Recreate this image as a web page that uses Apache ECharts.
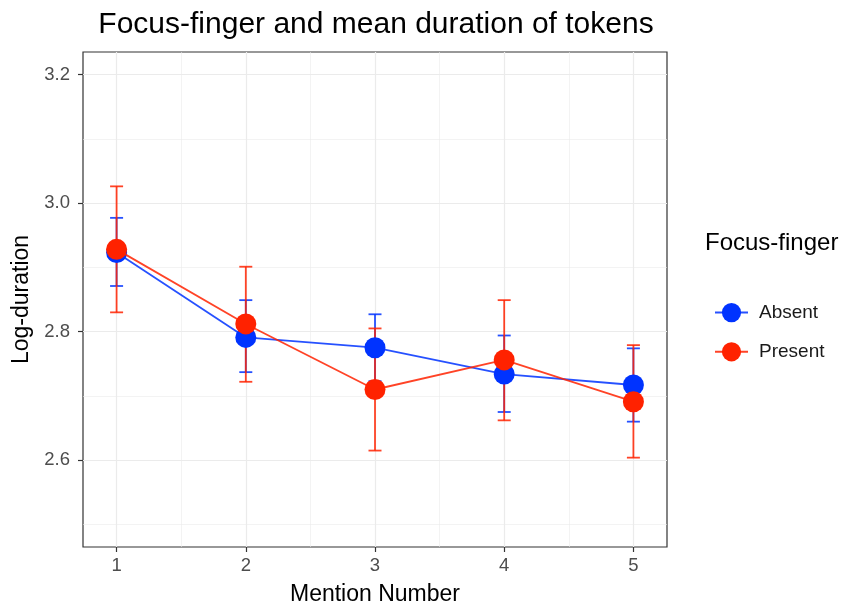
<!DOCTYPE html>
<html>
<head>
<meta charset="utf-8">
<script src="https://cdn.jsdelivr.net/npm/echarts@6/dist/echarts.min.js"></script>
<style>html,body{margin:0;padding:0;background:#fff}#c{width:847px;height:604px}</style>
</head>
<body>
<div id="c"></div>
<script>
// ---- data ----
const mentions = [1, 2, 3, 4, 5];
const absentMean = [2.923, 2.791, 2.775, 2.734, 2.717];
const absentLo   = [2.871, 2.737, 2.723, 2.675, 2.660];
const absentHi   = [2.977, 2.849, 2.827, 2.794, 2.774];
const presentMean = [2.928, 2.812, 2.710, 2.756, 2.691];
const presentLo   = [2.830, 2.722, 2.615, 2.662, 2.604];
const presentHi   = [3.026, 2.901, 2.805, 2.849, 2.779];
const xTicks = [1, 2, 3, 4, 5];
const xMinor = [1.5, 2.5, 3.5, 4.5];
const yTicks = [2.6, 2.8, 3.0, 3.2];
const yMinor = [2.5, 2.7, 2.9, 3.1];
const seriesNames = ['Absent', 'Present'];

const BLUE = '#0033ff', RED = '#ff2200';
const FONT = '"Liberation Sans", Arial, Helvetica, sans-serif';

const chart = echarts.init(document.getElementById('c'), null, {renderer: 'canvas'});

function errSeries(name, lo, hi, color, z) {
  return {
    name: name + ' error', type: 'custom', z: z,
    itemStyle: {color: color},
    data: mentions.map((m, i) => [m, lo[i], hi[i]]),
    renderItem: function (params, api) {
      const x = api.value(0);
      const top = api.coord([x, api.value(2)]);
      const bot = api.coord([x, api.value(1)]);
      const hw = 6.5;
      const st = {stroke: color, lineWidth: 1.8, opacity: 0.85, fill: null};
      return {type: 'group', children: [
        {type: 'line', shape: {x1: top[0], y1: top[1], x2: bot[0], y2: bot[1]}, style: st},
        {type: 'line', shape: {x1: top[0] - hw, y1: top[1], x2: top[0] + hw, y2: top[1]}, style: st},
        {type: 'line', shape: {x1: bot[0] - hw, y1: bot[1], x2: bot[0] + hw, y2: bot[1]}, style: st}
      ]};
    },
    silent: true
  };
}

function lineSeries(name, mean, color, z) {
  return {
    name: name, type: 'line', z: z,
    data: mentions.map((m, i) => [m, mean[i]]),
    symbol: 'circle', symbolSize: 21,
    itemStyle: {color: color},
    lineStyle: {color: color, width: 1.8, opacity: 0.85},
    silent: true
  };
}

const gridLines = []
  .concat(xTicks.map(v => ({xAxis: v, lineStyle: {width: 1.2, color: '#ebebeb'}})))
  .concat(xMinor.map(v => ({xAxis: v, lineStyle: {width: 0.6, color: '#ebebeb'}})))
  .concat(yTicks.map(v => ({yAxis: v, lineStyle: {width: 1.2, color: '#ebebeb'}})))
  .concat(yMinor.map(v => ({yAxis: v, lineStyle: {width: 0.6, color: '#ebebeb'}})));

chart.setOption({
  animation: false,
  backgroundColor: '#ffffff',
  textStyle: {fontFamily: FONT},
  grid: {left: 83, right: 180, top: 52, bottom: 57, show: true, borderColor: '#333333', borderWidth: 1.2,
    backgroundColor: 'transparent', containLabel: false, outerBoundsMode: 'none'},
  xAxis: {
    type: 'value', min: 0.74, max: 5.26,
    name: 'Mention Number', nameLocation: 'middle', nameGap: 36,
    nameTextStyle: {fontSize: 23, color: '#000', fontFamily: FONT},
    axisLine: {show: false},
    axisTick: {show: true, length: 5, customValues: xTicks, lineStyle: {color: '#333', width: 1.2}},
    axisLabel: {show: true, customValues: xTicks, margin: 9, fontSize: 18.5, color: '#4d4d4d', fontFamily: FONT},
    splitLine: {show: false}
  },
  yAxis: {
    type: 'value', min: 2.465, max: 3.235,
    name: 'Log-duration', nameLocation: 'middle', nameGap: 38, nameRotate: 90,
    nameTextStyle: {fontSize: 23, color: '#000', fontFamily: FONT},
    axisLine: {show: false},
    axisTick: {show: true, length: 5, customValues: yTicks, lineStyle: {color: '#333', width: 1.2}},
    axisLabel: {show: true, customValues: yTicks, margin: 13, fontSize: 18.5, color: '#4d4d4d', fontFamily: FONT,
      formatter: v => v.toFixed(1)},
    splitLine: {show: false}
  },
  legend: {
    data: seriesNames, orient: 'vertical', left: 709, top: 298,
    itemWidth: 33, itemHeight: 24, itemGap: 20,
    textStyle: {fontSize: 19, color: '#1a1a1a', fontFamily: FONT, padding: [0, 0, 0, 6]},
    selectedMode: false
  },
  graphic: [
    {type: 'text', x: 376, y: 25, style: {text: 'Focus-finger and mean duration of tokens', fontSize: 30, fontFamily: FONT, fill: '#000', textAlign: 'center', textVerticalAlign: 'middle'}},
    {type: 'text', x: 705, y: 243, style: {text: 'Focus-finger', fontSize: 24, fontFamily: FONT, fill: '#000', textAlign: 'left', textVerticalAlign: 'middle'}}
  ],
  series: [
    {type: 'line', name: 'grid', data: [], z: 1, silent: true,
      markLine: {silent: true, z: 1, symbol: ['none', 'none'], label: {show: false}, animation: false, data: gridLines, lineStyle: {type: 'solid'}}},
    errSeries('Absent', absentLo, absentHi, BLUE, 10),
    errSeries('Present', presentLo, presentHi, RED, 11),
    lineSeries('Absent', absentMean, BLUE, 12),
    lineSeries('Present', presentMean, RED, 13)
  ]
});
</script>
</body>
</html>
